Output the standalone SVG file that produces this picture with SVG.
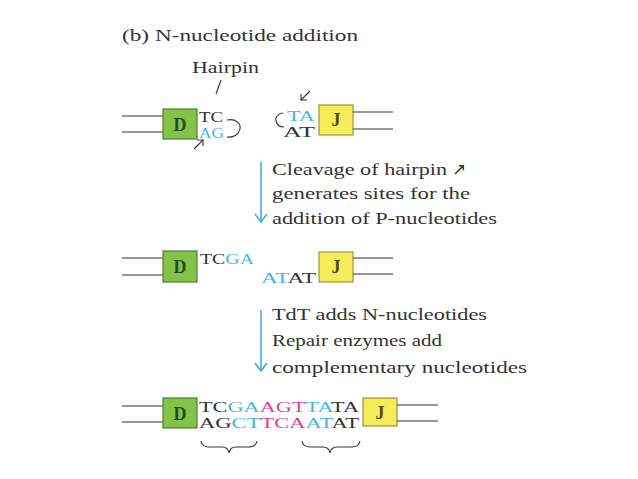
<svg xmlns="http://www.w3.org/2000/svg" width="638" height="479" viewBox="0 0 638 479">
<defs>
<style>
.t{font-family:"Liberation Serif","Times New Roman",serif;fill:#333;}
.lbl{font-size:17px;}
.seq{font-size:15px;}
.b{fill:#45b8e2;}
.m{fill:#e0409a;}
.k{fill:#333;}
.dna{stroke:#333;stroke-width:1.2;fill:none;}
.dbox{fill:#84c24a;stroke:#4d7d2e;stroke-width:1.2;}
.jbox{fill:#f6ec5a;stroke:#9a9440;stroke-width:1.2;}
.dl{font-family:"Liberation Serif",serif;font-size:18px;font-weight:bold;fill:#1e4f1e;}
.jl{font-family:"Liberation Serif",serif;font-size:18px;font-weight:bold;fill:#5a4612;}
.blue{stroke:#3aa9d9;stroke-width:1.5;fill:none;}
.thin{stroke:#333;stroke-width:1.1;fill:none;}
</style>
</defs>
<rect width="638" height="479" fill="#fff"/>
<text class="t" x="122" y="41" font-size="17" textLength="236" lengthAdjust="spacingAndGlyphs">(b)  N-nucleotide addition</text>

<g id="row1-left">
<line class="dna" x1="122" y1="116" x2="163" y2="116"/>
<line class="dna" x1="122" y1="132" x2="163" y2="132"/>
<rect class="dbox" x="163" y="109" width="34" height="30"/>
<text class="dl" x="180" y="131" text-anchor="middle">D</text>
<text class="t seq" x="199" y="122" textLength="24" lengthAdjust="spacingAndGlyphs">TC</text>
<text class="t seq b" x="199" y="138" textLength="25" lengthAdjust="spacingAndGlyphs">AG</text>
<path class="thin" d="M227,120 C236,118 241,124 240,129 C239,134 234,138 227,137"/>
</g>
<g id="hairpin-label">
<text class="t lbl" x="192" y="73" textLength="67" lengthAdjust="spacingAndGlyphs">Hairpin</text>
<line class="thin" x1="221" y1="80" x2="216" y2="94"/>
</g>
<g id="arrow-small-1">
<line class="thin" x1="194" y1="149" x2="203" y2="140"/>
<polyline class="thin" points="197,140 203,140 203,146"/>
</g>

<g id="row1-right">
<path class="thin" d="M283,113 C277,114 275,118 276,121 C277,125 280,127 284,127"/>
<text class="t seq b" x="287" y="121" textLength="28" lengthAdjust="spacingAndGlyphs">TA</text>
<text class="t seq" x="283" y="137" textLength="32" lengthAdjust="spacingAndGlyphs">AT</text>
<rect class="jbox" x="319" y="105" width="34" height="30"/>
<text class="jl" x="336" y="126" text-anchor="middle">J</text>
<line class="dna" x1="353" y1="112" x2="393" y2="112"/>
<line class="dna" x1="353" y1="129" x2="393" y2="129"/>
</g>
<g id="arrow-small-2">
<line class="thin" x1="310" y1="91" x2="301" y2="100"/>
<polyline class="thin" points="301,94 301,100 307,100"/>
</g>

<g id="connectors">
<line class="blue" x1="261" y1="162" x2="261" y2="222"/>
<polyline class="blue" points="255,214 261,222 267,214"/>
<line class="blue" x1="261" y1="310" x2="261" y2="371"/>
<polyline class="blue" points="255,363 261,371 267,363"/>
</g>

<g id="step1-text">
<text class="t lbl" x="272" y="175" textLength="175" lengthAdjust="spacingAndGlyphs">Cleavage of hairpin</text>
<text class="t lbl" x="452" y="175" font-family="DejaVu Sans,sans-serif" font-size="14">↗</text>
<text class="t lbl" x="272" y="199" textLength="198" lengthAdjust="spacingAndGlyphs">generates sites for the</text>
<text class="t lbl" x="272" y="224" textLength="225" lengthAdjust="spacingAndGlyphs">addition of P-nucleotides</text>
</g>

<g id="row2">
<line class="dna" x1="122" y1="258" x2="163" y2="258"/>
<line class="dna" x1="122" y1="275" x2="163" y2="275"/>
<rect class="dbox" x="163" y="251" width="34" height="31"/>
<text class="dl" x="180" y="273" text-anchor="middle">D</text>
<text class="t seq" x="200" y="264" textLength="54" lengthAdjust="spacingAndGlyphs">TC<tspan class="b">GA</tspan></text>
<text class="t seq" x="261" y="283" textLength="55" lengthAdjust="spacingAndGlyphs"><tspan class="b">AT</tspan>AT</text>
<rect class="jbox" x="319" y="252" width="34" height="30"/>
<text class="jl" x="336" y="273" text-anchor="middle">J</text>
<line class="dna" x1="353" y1="258" x2="393" y2="258"/>
<line class="dna" x1="353" y1="274" x2="393" y2="274"/>
</g>

<g id="step2-text">
<text class="t lbl" x="272" y="320" textLength="215" lengthAdjust="spacingAndGlyphs">TdT adds N-nucleotides</text>
<text class="t lbl" x="272" y="346" textLength="170" lengthAdjust="spacingAndGlyphs">Repair enzymes add</text>
<text class="t lbl" x="272" y="373" textLength="255" lengthAdjust="spacingAndGlyphs">complementary nucleotides</text>
</g>

<g id="row3">
<line class="dna" x1="122" y1="406" x2="163" y2="406"/>
<line class="dna" x1="122" y1="422" x2="163" y2="422"/>
<rect class="dbox" x="163" y="398" width="34" height="30"/>
<text class="dl" x="180" y="420" text-anchor="middle">D</text>
<text class="t seq" x="199" y="412" textLength="160" lengthAdjust="spacingAndGlyphs">TC<tspan class="b">GA</tspan><tspan class="m">AGT</tspan><tspan class="b">TA</tspan>TA</text>
<text class="t seq" x="199" y="428" textLength="160" lengthAdjust="spacingAndGlyphs">AG<tspan class="b">CT</tspan><tspan class="m">TCA</tspan><tspan class="b">AT</tspan>AT</text>
<rect class="jbox" x="363" y="398" width="34" height="28"/>
<text class="jl" x="380" y="419" text-anchor="middle">J</text>
<line class="dna" x1="397" y1="405" x2="438" y2="405"/>
<line class="dna" x1="397" y1="421" x2="438" y2="421"/>
</g>

<g id="braces">
<path class="thin" d="M201,441 Q202,447 209,447 L222,447 Q228,447 229,453 Q230,447 236,447 L249,447 Q256,447 257,441"/>
<path class="thin" d="M302,441 Q303,447 310,447 L323,447 Q329,447 330,453 Q331,447 337,447 L352,447 Q359,447 360,441"/>
</g>
</svg>
